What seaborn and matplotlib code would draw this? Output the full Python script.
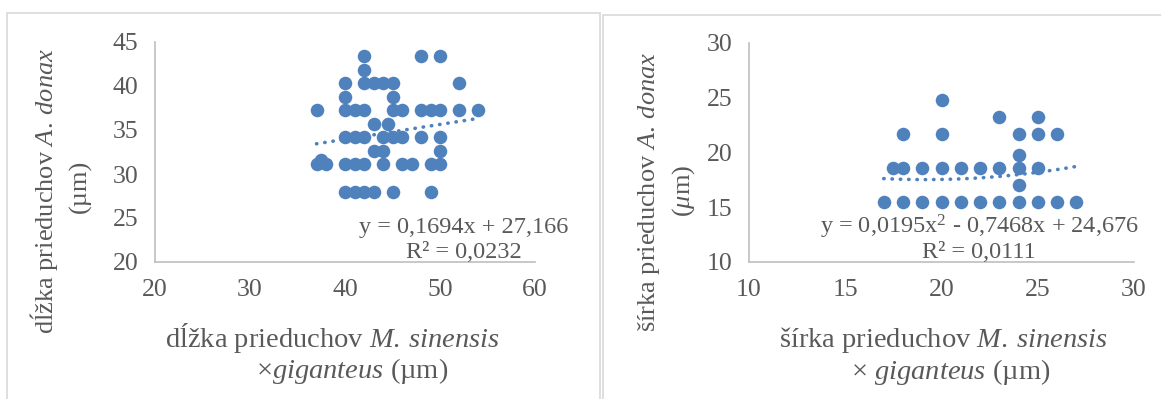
import numpy as np
import pandas as pd
import seaborn as sns
import matplotlib
matplotlib.use("Agg")
import matplotlib.pyplot as plt
from matplotlib.patches import Rectangle

# Stomata length (µm): M. sinensis x giganteus vs. A. donax
len_msg = [42, 48, 50,
           42,
           40, 42, 43, 44, 45, 52,
           40, 45,
           37, 40, 41, 42, 45, 46, 48, 49, 50, 52, 54,
           43, 44.5,
           40, 41, 42, 44, 45, 46, 48, 50,
           43, 44, 50,
           37.5,
           37, 38, 40, 41, 42, 44, 46, 47, 49, 50,
           40, 41, 42, 43, 45, 49]
len_adonax = [43.4, 43.4, 43.4,
              41.8,
              40.3, 40.3, 40.3, 40.3, 40.3, 40.3,
              38.8, 38.8,
              37.3, 37.3, 37.3, 37.3, 37.3, 37.3, 37.3, 37.3, 37.3, 37.3, 37.3,
              35.7, 35.7,
              34.2, 34.2, 34.2, 34.2, 34.2, 34.2, 34.2, 34.2,
              32.6, 32.6, 32.6,
              31.6,
              31.1, 31.1, 31.1, 31.1, 31.1, 31.1, 31.1, 31.1, 31.1, 31.1,
              27.9, 27.9, 27.9, 27.9, 27.9, 27.9]

# Stomata width (µm)
wid_msg = [20,
           23, 25,
           18, 20, 24, 25, 26,
           24,
           17.5, 18, 19, 20, 21, 22, 23, 24, 25,
           24,
           17, 18, 19, 20, 21, 22, 23, 24, 25, 26, 27]
wid_adonax = [24.8,
              23.2, 23.2,
              21.7, 21.7, 21.7, 21.7, 21.7,
              19.8,
              18.6, 18.6, 18.6, 18.6, 18.6, 18.6, 18.6, 18.6, 18.6,
              17.05,
              15.5, 15.5, 15.5, 15.5, 15.5, 15.5, 15.5, 15.5, 15.5, 15.5, 15.5]

len_xticks = [20, 30, 40, 50, 60]
len_yticks = [20, 25, 30, 35, 40, 45]
wid_xticks = [10, 15, 20, 25, 30]
wid_yticks = [10, 15, 20, 25, 30]

# Trend lines (Excel fits)
lin_coef = [0.1694, 27.166]
lin_r2 = "0,0232"
quad_coef = [0.0195, -0.7468, 24.676]
quad_r2 = "0,0111"

BLUE = "#4f81bd"
GREY_TXT = "#595959"
SPINE = "#bfbfbf"
TICK_FS = 18.5
EQ_FS = 17.5
XTITLE_FS = 20.5
YTITLE_FS = 19

sns.set_style("white")
plt.rcParams["font.family"] = ["Liberation Serif", "DejaVu Serif"]
plt.rcParams["mathtext.fontset"] = "custom"
plt.rcParams["mathtext.rm"] = "Liberation Serif"
plt.rcParams["mathtext.it"] = "Liberation Serif:italic"

W, H = 1161, 399
fig = plt.figure(figsize=(W / 100, H / 100), dpi=100)


def px_axes(x0, y0, x1, y1):
    return fig.add_axes([x0 / W, 1 - y1 / H, (x1 - x0) / W, (y1 - y0) / H])


def ftext(x, y, s, **kw):
    kw.setdefault("color", GREY_TXT)
    kw.setdefault("fontsize", XTITLE_FS)
    kw.setdefault("ha", "center")
    kw.setdefault("va", "center")
    fig.text(x / W, 1 - y / H, s, **kw)


# chart frames
for (x0, y0, x1, y1) in [(7, 13, 600, 404), (603, 15, 1166, 404)]:
    fig.add_artist(Rectangle((x0 / W, 1 - y1 / H), (x1 - x0) / W, (y1 - y0) / H,
                             transform=fig.transFigure, fill=False,
                             edgecolor="#d9d9d9", linewidth=1.2))


def style_axes(ax, xt, yt):
    ax.set_xlim(xt[0], xt[-1])
    ax.set_ylim(yt[0], yt[-1])
    ax.set_xticks(xt)
    ax.set_yticks(yt)
    ax.tick_params(length=0, pad=12, labelsize=TICK_FS, labelcolor=GREY_TXT)
    for side in ["top", "right"]:
        ax.spines[side].set_visible(False)
    for side in ["left", "bottom"]:
        ax.spines[side].set_color(SPINE)
        ax.spines[side].set_linewidth(1.2)
    ax.set_xlabel("")
    ax.set_ylabel("")
    ax.patch.set_alpha(0)


def trend(ax, xs, coef):
    tx = np.linspace(min(xs), max(xs), 50)
    tr = pd.DataFrame({"x": tx, "y": np.polyval(coef, tx)})
    sns.lineplot(data=tr, x="x", y="y", ax=ax, color=BLUE, lw=2.6, zorder=3)
    ax.lines[-1].set_linestyle((0, (0.1, 2.2)))
    ax.lines[-1].set_dash_capstyle("round")


# --- left: length ---
ax1 = px_axes(155, 42, 535, 262)
df1 = pd.DataFrame({"x": len_msg, "y": len_adonax})
sns.scatterplot(data=df1, x="x", y="y", ax=ax1, color=BLUE, s=95,
                linewidth=0, zorder=2, clip_on=False)
trend(ax1, len_msg, lin_coef)
style_axes(ax1, len_xticks, len_yticks)

ftext(464, 228, "y = 0,1694x + 27,166", fontsize=EQ_FS)
ftext(464, 252, "R² = " + lin_r2, fontsize=EQ_FS)
ftext(333, 338, r"dĺžka prieduchov $\mathit{M.\:sinensis}$")
ftext(352, 371, r"×$\mathit{giganteus}$ (µm)")
ftext(44, 191, r"dĺžka prieduchov $\mathit{A.\:donax}$", rotation=90,
      fontsize=YTITLE_FS)
ftext(80, 186, "(µm)", rotation=90, fontsize=YTITLE_FS)

# --- right: width ---
ax2 = px_axes(749, 43, 1134, 262)
df2 = pd.DataFrame({"x": wid_msg, "y": wid_adonax})
sns.scatterplot(data=df2, x="x", y="y", ax=ax2, color=BLUE, s=95,
                linewidth=0, zorder=2, clip_on=False)
trend(ax2, wid_msg, quad_coef)
style_axes(ax2, wid_xticks, wid_yticks)

ftext(979, 227, r"y = 0,0195x$^{2}$ - 0,7468x + 24,676", fontsize=EQ_FS)
ftext(979, 252, "R² = " + quad_r2, fontsize=EQ_FS)
ftext(943, 340, r"šírka prieduchov $\mathit{M.\:sinensis}$")
ftext(951, 372, r"× $\mathit{giganteus}$ (µm)")
ftext(649, 192, r"šírka prieduchov $\mathit{A.\:donax}$", rotation=90,
      fontsize=YTITLE_FS)
ftext(684, 191, r"($\mathit{μ}$m)", rotation=90, fontsize=YTITLE_FS)

fig.savefig("out.png", dpi=100)
